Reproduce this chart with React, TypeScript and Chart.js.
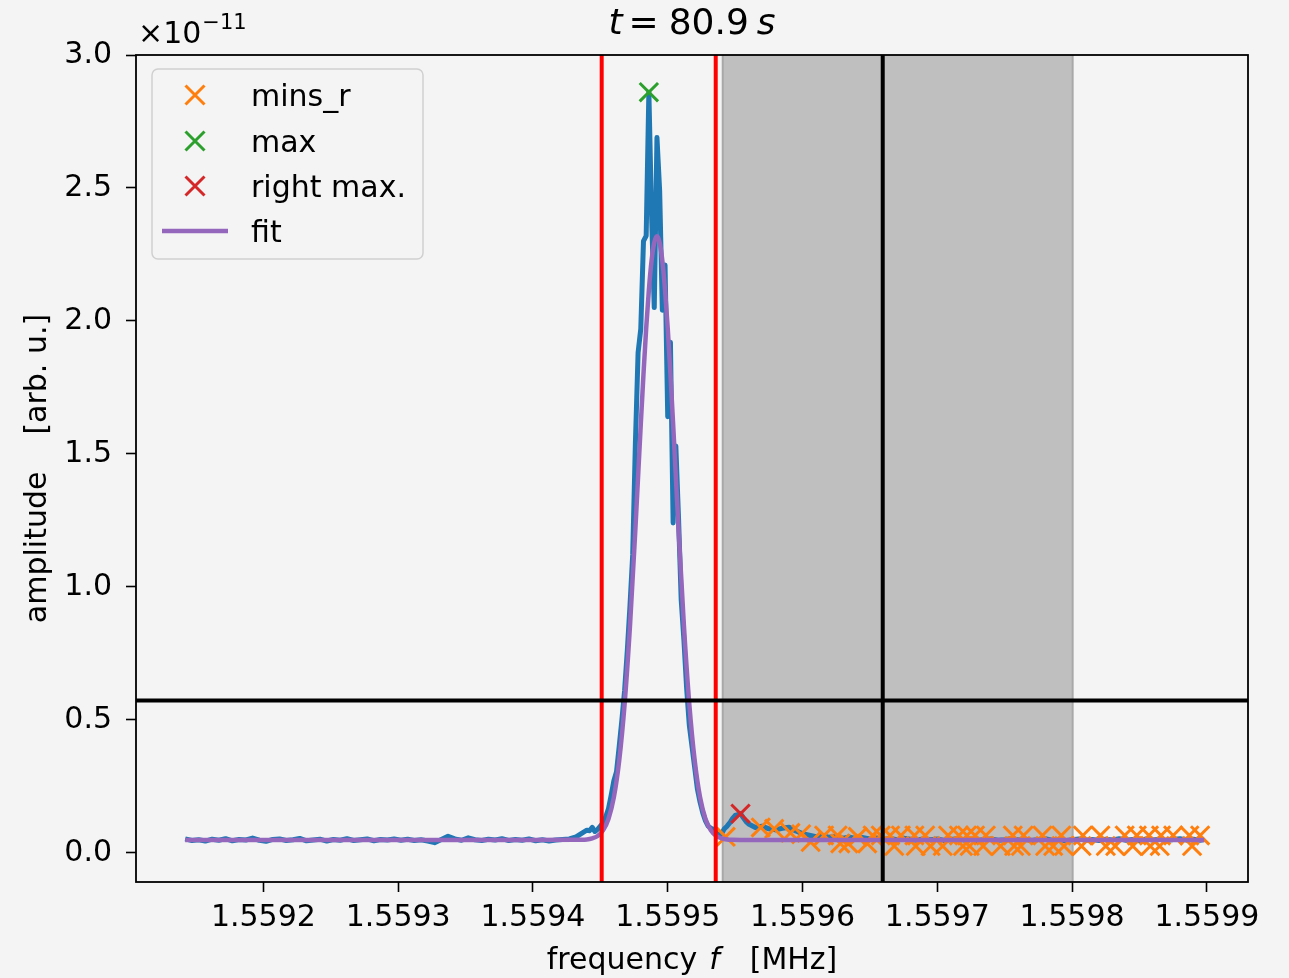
import React, { useEffect, useRef } from "react";
import { Chart, registerables } from "chart.js";

Chart.register(...registerables);

const FONT = '"DejaVu Sans", "Liberation Sans", sans-serif';
const BG = "#f4f4f4";
const BLUE = "#1f77b4";
const ORANGE = "#ff7f0e";
const GREEN = "#2ca02c";
const RED_M = "#d62728";
const PURPLE = "#9467bd";

// axis limits: frequency in MHz, amplitude in units of 1e-11
const xLimits = [1.5591055, 1.5599305];
const yLimits = [-0.11, 3.0];
const xTicks = [1.5592, 1.5593, 1.5594, 1.5595, 1.5596, 1.5597, 1.5598, 1.5599];
const yTicks = [0.0, 0.5, 1.0, 1.5, 2.0, 2.5, 3.0];

// measured spectrum (left baseline, peak, right tail)
const leftFreq = [
  1.559142, 1.559147, 1.559152, 1.559157, 1.559162, 1.559167, 1.559172, 1.559177, 1.559182, 1.559187,
  1.559192, 1.559197, 1.559202, 1.559207, 1.559212, 1.559217, 1.559222, 1.559227, 1.559232, 1.559237,
  1.559242, 1.559247, 1.559252, 1.559257, 1.559262, 1.559267, 1.559272, 1.559277, 1.559282, 1.559287,
  1.559292, 1.559297, 1.559302, 1.559307, 1.559312, 1.559317, 1.559322, 1.559327, 1.559332, 1.559337,
  1.559342, 1.559347, 1.559352, 1.559357, 1.559362, 1.559367, 1.559372, 1.559377, 1.559382, 1.559387,
  1.559392, 1.559397, 1.559402, 1.559407, 1.559412, 1.559417, 1.559422, 1.559427, 1.559432, 1.559437,
];
const leftAmp = [
  0.052, 0.046, 0.049, 0.044, 0.051, 0.047, 0.053, 0.045, 0.050, 0.048,
  0.055, 0.047, 0.043, 0.050, 0.052, 0.046, 0.049, 0.054, 0.045, 0.048,
  0.051, 0.044, 0.050, 0.047, 0.053, 0.046, 0.049, 0.052, 0.045, 0.050,
  0.048, 0.052, 0.047, 0.051, 0.046, 0.049, 0.044, 0.038, 0.050, 0.062,
  0.052, 0.047, 0.056, 0.049, 0.046, 0.051, 0.048, 0.053, 0.046, 0.050,
  0.047, 0.052, 0.045, 0.049, 0.044, 0.048, 0.050, 0.052, 0.060, 0.076,
];
const peakFreq = [
  1.55944, 1.559442, 1.559444, 1.559446, 1.559448, 1.55945, 1.559452, 1.559454, 1.559456, 1.559458,
  1.55946, 1.559462, 1.559464, 1.559466, 1.559468, 1.55947, 1.559472, 1.559474, 1.559476, 1.559478,
  1.55948, 1.559482, 1.559484, 1.559486, 1.559488, 1.55949, 1.559492, 1.559494, 1.559496, 1.559498,
  1.5595, 1.559502, 1.559504, 1.559506, 1.559508, 1.55951, 1.559512, 1.559514, 1.559516, 1.559518,
  1.55952, 1.559522, 1.559524, 1.559526, 1.559528, 1.55953, 1.559532, 1.559534, 1.559536, 1.559538,
  1.55954, 1.559542, 1.559544, 1.559546, 1.559548, 1.55955, 1.559552, 1.559554, 1.559556, 1.559558,
  1.55956,
];
const peakAmp = [
  0.085, 0.083, 0.095, 0.080, 0.088, 0.100, 0.112, 0.135, 0.165, 0.215,
  0.270, 0.305, 0.400, 0.500, 0.610, 0.760, 0.930, 1.120, 1.540, 1.880,
  1.970, 2.300, 2.320, 2.860, 2.400, 2.050, 2.690, 2.490, 2.040, 2.210,
  1.640, 1.920, 1.240, 1.530, 1.260, 0.950, 0.800, 0.620, 0.480, 0.400,
  0.320, 0.240, 0.190, 0.150, 0.120, 0.100, 0.092, 0.088, 0.075, 0.068,
  0.072, 0.090, 0.100, 0.112, 0.128, 0.140, 0.143, 0.147, 0.132, 0.118,
  0.108,
];
const tailFreq = [
  1.559565, 1.55957, 1.559575, 1.55958, 1.559585, 1.55959, 1.559595, 1.5596, 1.559605, 1.55961,
  1.559615, 1.55962, 1.559625, 1.55963, 1.559635, 1.55964, 1.559645, 1.55965, 1.559655, 1.55966,
  1.559665, 1.55967, 1.559675, 1.55968, 1.559685, 1.55969, 1.559695, 1.5597, 1.559705, 1.55971,
  1.559715, 1.55972, 1.559725, 1.55973, 1.559735, 1.55974, 1.559745, 1.55975, 1.559755, 1.55976,
  1.559765, 1.55977, 1.559775, 1.55978, 1.559785, 1.55979, 1.559795, 1.5598, 1.559805, 1.55981,
  1.559815, 1.55982, 1.559825, 1.55983, 1.559835, 1.55984, 1.559845, 1.55985, 1.559855, 1.55986,
  1.559865, 1.55987, 1.559875, 1.55988, 1.559885, 1.55989, 1.559895, 1.559898,
];
const tailAmp = [
  0.095, 0.100, 0.090, 0.086, 0.092, 0.096, 0.082, 0.072, 0.066, 0.060,
  0.064, 0.058, 0.061, 0.055, 0.059, 0.053, 0.057, 0.052, 0.056, 0.050,
  0.054, 0.049, 0.055, 0.051, 0.047, 0.053, 0.049, 0.052, 0.046, 0.050,
  0.053, 0.048, 0.051, 0.046, 0.050, 0.052, 0.047, 0.049, 0.053, 0.048,
  0.051, 0.046, 0.050, 0.053, 0.047, 0.050, 0.045, 0.049, 0.052, 0.047,
  0.050, 0.046, 0.051, 0.048, 0.053, 0.047, 0.050, 0.045, 0.052, 0.048,
  0.051, 0.046, 0.050, 0.053, 0.048, 0.051, 0.047, 0.050,
];

// fitted curve
const fitFreq = [
  1.559142, 1.5593, 1.5594, 1.55943, 1.55944, 1.559444, 1.559448, 1.559452, 1.559456, 1.55946,
  1.559464, 1.559468, 1.559472, 1.559476, 1.55948, 1.559482, 1.559484, 1.559486, 1.559488, 1.55949,
  1.559492, 1.559494, 1.559496, 1.559498, 1.5595, 1.559502, 1.559504, 1.559508, 1.559512, 1.559516,
  1.55952, 1.559524, 1.559528, 1.559532, 1.559536, 1.55954, 1.559544, 1.559548, 1.55956, 1.5597,
  1.559898,
];
const fitAmp = [
  0.048, 0.048, 0.048, 0.0485, 0.050, 0.054, 0.063, 0.084, 0.127, 0.208,
  0.347, 0.559, 0.854, 1.218, 1.612, 1.800, 1.972, 2.116, 2.226, 2.295,
  2.318, 2.295, 2.226, 2.116, 1.972, 1.800, 1.612, 1.218, 0.854, 0.559,
  0.347, 0.208, 0.127, 0.084, 0.063, 0.054, 0.050, 0.049, 0.048, 0.048,
  0.048,
];

// markers
const maxFreq = [1.559486];
const maxAmp = [2.86];
const rightMaxFreq = [1.559554];
const rightMaxAmp = [0.147];
const minsFreq = [
  1.559543, 1.559569, 1.559579, 1.559591, 1.559599, 1.559606, 1.559616, 1.559626, 1.559628, 1.559634,
  1.559641, 1.559648, 1.559652, 1.559658, 1.559665, 1.559668, 1.559673, 1.559683, 1.559684, 1.559691,
  1.559695, 1.559704, 1.559708, 1.559716, 1.559719, 1.559722, 1.559724, 1.559728, 1.559734, 1.559736,
  1.559747, 1.559756, 1.559757, 1.559762, 1.559764, 1.559778, 1.55978, 1.559786, 1.559792, 1.559794,
  1.559807, 1.559808, 1.559821, 1.559825, 1.559832, 1.559839, 1.559845, 1.559848, 1.559857, 1.559858,
  1.559865, 1.559866, 1.559875, 1.559887, 1.559889, 1.559895,
];
const minsAmp = [
  0.060, 0.095, 0.090, 0.075, 0.070, 0.040, 0.065, 0.065, 0.035, 0.035,
  0.060, 0.035, 0.065, 0.065, 0.065, 0.025, 0.065, 0.065, 0.025, 0.065,
  0.025, 0.025, 0.065, 0.065, 0.025, 0.065, 0.025, 0.065, 0.025, 0.065,
  0.025, 0.065, 0.025, 0.025, 0.065, 0.065, 0.025, 0.025, 0.065, 0.025,
  0.025, 0.065, 0.065, 0.025, 0.025, 0.065, 0.025, 0.065, 0.065, 0.025,
  0.025, 0.065, 0.065, 0.065, 0.025, 0.065,
];

// reference lines and band
const redLineFreqs = [1.559451, 1.5595356];
const blackLineFreq = 1.5596595;
const blackLineAmp = 0.573;
const bandFreq = [1.5595408, 1.5598004];

const legendItems = [
  { label: "mins_r", color: ORANGE, kind: "x" },
  { label: "max", color: GREEN, kind: "x" },
  { label: "right max.", color: RED_M, kind: "x" },
  { label: "fit", color: PURPLE, kind: "line" },
];

const toPoints = (xs: number[], ys: number[]) => xs.map((x, i) => ({ x, y: ys[i] }));

function drawRun(ctx: CanvasRenderingContext2D, parts: [string, string, number][], cx: number, y: number) {
  let total = 0;
  const widths = parts.map(([t, f, g]) => {
    ctx.font = f;
    const w = ctx.measureText(t).width;
    total += w + g;
    return w;
  });
  let x = cx - total / 2;
  ctx.textAlign = "left";
  ctx.textBaseline = "alphabetic";
  parts.forEach(([t, f, g], i) => {
    ctx.font = f;
    ctx.fillText(t, x, y);
    x += widths[i] + g;
  });
}

function drawX(ctx: CanvasRenderingContext2D, cx: number, cy: number, h: number, color: string, lw: number) {
  ctx.strokeStyle = color;
  ctx.lineWidth = lw;
  ctx.lineCap = "butt";
  ctx.beginPath();
  ctx.moveTo(cx - h, cy - h);
  ctx.lineTo(cx + h, cy + h);
  ctx.moveTo(cx - h, cy + h);
  ctx.lineTo(cx + h, cy - h);
  ctx.stroke();
}

const overlayPlugin = {
  id: "overlay",
  beforeDraw(chart: any) {
    const ctx = chart.ctx;
    ctx.save();
    ctx.fillStyle = BG;
    ctx.fillRect(0, 0, chart.width, chart.height);
    ctx.restore();
  },
  beforeDatasetsDraw(chart: any) {
    const { ctx, chartArea: a, scales } = chart;
    const x0 = scales.x.getPixelForValue(bandFreq[0]);
    const x1 = scales.x.getPixelForValue(bandFreq[1]);
    ctx.save();
    ctx.fillStyle = "#bfbfbf";
    ctx.fillRect(x0, a.top, x1 - x0, a.bottom - a.top);
    ctx.strokeStyle = "#a8a8a8";
    ctx.lineWidth = 2;
    [x0, x1].forEach((px) => {
      ctx.beginPath();
      ctx.moveTo(px, a.top);
      ctx.lineTo(px, a.bottom);
      ctx.stroke();
    });
    ctx.restore();
  },
  afterDatasetsDraw(chart: any) {
    const { ctx, chartArea: a, scales } = chart;
    ctx.save();
    ctx.beginPath();
    ctx.rect(a.left, a.top, a.right - a.left, a.bottom - a.top);
    ctx.clip();
    ctx.lineWidth = 4;
    ctx.strokeStyle = "#ff0000";
    redLineFreqs.forEach((f) => {
      const px = scales.x.getPixelForValue(f);
      ctx.beginPath();
      ctx.moveTo(px, a.top);
      ctx.lineTo(px, a.bottom);
      ctx.stroke();
    });
    ctx.strokeStyle = "#000000";
    const bx = scales.x.getPixelForValue(blackLineFreq);
    ctx.beginPath();
    ctx.moveTo(bx, a.top);
    ctx.lineTo(bx, a.bottom);
    ctx.stroke();
    const by = scales.y.getPixelForValue(blackLineAmp);
    ctx.beginPath();
    ctx.moveTo(a.left, by);
    ctx.lineTo(a.right, by);
    ctx.stroke();
    ctx.restore();

    ctx.save();
    ctx.strokeStyle = "#000";
    ctx.lineWidth = 1.8;
    ctx.strokeRect(a.left, a.top, a.right - a.left, a.bottom - a.top);
    ctx.restore();
  },
  afterDraw(chart: any) {
    const ctx: CanvasRenderingContext2D = chart.ctx;
    const a = chart.chartArea;
    const cx = (a.left + a.right) / 2;
    ctx.save();
    ctx.fillStyle = "#000";

    // title
    drawRun(ctx, [
      ["t", `italic 36px ${FONT}`, 6],
      ["=", `36px ${FONT}`, 10],
      ["80.9", `36px ${FONT}`, 8],
      ["s", `italic 36px ${FONT}`, 0],
    ], cx, 34);

    // offset text
    ctx.textAlign = "left";
    ctx.textBaseline = "alphabetic";
    ctx.font = `30px ${FONT}`;
    ctx.fillText("\u00d710", 138, 43);
    const w10 = ctx.measureText("\u00d710").width;
    ctx.font = `21px ${FONT}`;
    ctx.fillText("\u221211", 138 + w10 + 1, 29);

    // x label
    drawRun(ctx, [
      ["frequency", `30px ${FONT}`, 12],
      ["f", `italic 30px ${FONT}`, 30],
      ["[MHz]", `30px ${FONT}`, 0],
    ], cx, 969);

    // y label
    ctx.save();
    ctx.translate(46, (a.top + a.bottom) / 2);
    ctx.rotate(-Math.PI / 2);
    drawRun(ctx, [
      ["amplitude", `30px ${FONT}`, 37],
      ["[arb. u.]", `30px ${FONT}`, 0],
    ], 0, 0);
    ctx.restore();

    // legend
    const bx = 152, byTop = 69, bw = 271, bh = 190;
    ctx.beginPath();
    ctx.roundRect(bx, byTop, bw, bh, 6);
    ctx.fillStyle = BG;
    ctx.fill();
    ctx.strokeStyle = "#d0d0d0";
    ctx.lineWidth = 1.5;
    ctx.stroke();
    const rows = [95, 141, 186, 231];
    legendItems.forEach((it, i) => {
      const ry = rows[i];
      if (it.kind === "x") {
        drawX(ctx, 195, ry, 9.5, it.color, 3);
      } else {
        ctx.strokeStyle = it.color;
        ctx.lineWidth = 4.5;
        ctx.lineCap = "butt";
        ctx.beginPath();
        ctx.moveTo(162, ry);
        ctx.lineTo(228, ry);
        ctx.stroke();
      }
      ctx.fillStyle = "#000";
      ctx.font = `30px ${FONT}`;
      ctx.textAlign = "left";
      ctx.textBaseline = "alphabetic";
      ctx.fillText(it.label, 251, ry + 10.5);
    });
    ctx.restore();
  },
};

export default function App() {
  const canvasRef = useRef<HTMLCanvasElement | null>(null);

  useEffect(() => {
    const canvas = canvasRef.current;
    if (!canvas) return;
    const markerDs = (label: string, xs: number[], ys: number[], color: string, order: number) => ({
      label,
      data: toPoints(xs, ys),
      showLine: false,
      pointStyle: "crossRot",
      pointRadius: 13,
      pointHoverRadius: 13,
      pointBorderWidth: 3,
      pointBorderColor: color,
      pointBackgroundColor: color,
      borderColor: color,
      order,
    });
    const chart = new Chart(canvas, {
      type: "line",
      data: {
        datasets: [
          {
            label: "fit",
            data: toPoints(fitFreq, fitAmp),
            borderColor: PURPLE,
            borderWidth: 4.5,
            pointRadius: 0,
            cubicInterpolationMode: "monotone",
            borderJoinStyle: "round",
            order: 0,
          } as any,
          markerDs("right max.", rightMaxFreq, rightMaxAmp, RED_M, 1),
          markerDs("max", maxFreq, maxAmp, GREEN, 1),
          markerDs("mins_r", minsFreq, minsAmp, ORANGE, 2),
          {
            label: "data",
            data: toPoints(
              [...leftFreq, ...peakFreq, ...tailFreq],
              [...leftAmp, ...peakAmp, ...tailAmp]
            ),
            borderColor: BLUE,
            borderWidth: 5,
            pointRadius: 0,
            tension: 0,
            borderJoinStyle: "round",
            order: 3,
          },
        ],
      },
      options: {
        animation: false,
        responsive: false,
        devicePixelRatio: 1,
        events: [],
        layout: { padding: { left: 0, right: 41, top: 55, bottom: 0 } },
        plugins: {
          legend: { display: false },
          tooltip: { enabled: false },
          title: { display: false },
        },
        scales: {
          x: {
            type: "linear",
            min: xLimits[0],
            max: xLimits[1],
            afterBuildTicks: (s: any) => {
              s.ticks = xTicks.map((v) => ({ value: v }));
            },
            afterFit: (s: any) => {
              s.height = 96;
            },
            grid: {
              display: true,
              drawOnChartArea: false,
              drawTicks: true,
              tickLength: 10,
              tickWidth: 1.6,
              tickColor: "#000",
            },
            border: { display: false },
            ticks: {
              autoSkip: false,
              maxRotation: 0,
              minRotation: 0,
              padding: 8,
              color: "#000",
              font: { family: FONT, size: 30 },
              callback: (v: any) => Number(v).toFixed(4),
            },
          },
          y: {
            type: "linear",
            min: yLimits[0],
            max: yLimits[1],
            afterBuildTicks: (s: any) => {
              s.ticks = yTicks.map((v) => ({ value: v }));
            },
            afterFit: (s: any) => {
              s.width = 136;
            },
            grid: {
              display: true,
              drawOnChartArea: false,
              drawTicks: true,
              tickLength: 10,
              tickWidth: 1.6,
              tickColor: "#000",
            },
            border: { display: false },
            ticks: {
              autoSkip: false,
              padding: 14,
              color: "#000",
              font: { family: FONT, size: 30 },
              callback: (v: any) => Number(v).toFixed(1),
            },
          },
        },
      } as any,
      plugins: [overlayPlugin],
    });
    return () => chart.destroy();
  }, []);

  return (
    <div style={{ position: "fixed", left: 0, top: 0, width: 1289, height: 978, background: BG }}>
      <canvas ref={canvasRef} width={1289} height={978} style={{ display: "block" }} />
    </div>
  );
}
